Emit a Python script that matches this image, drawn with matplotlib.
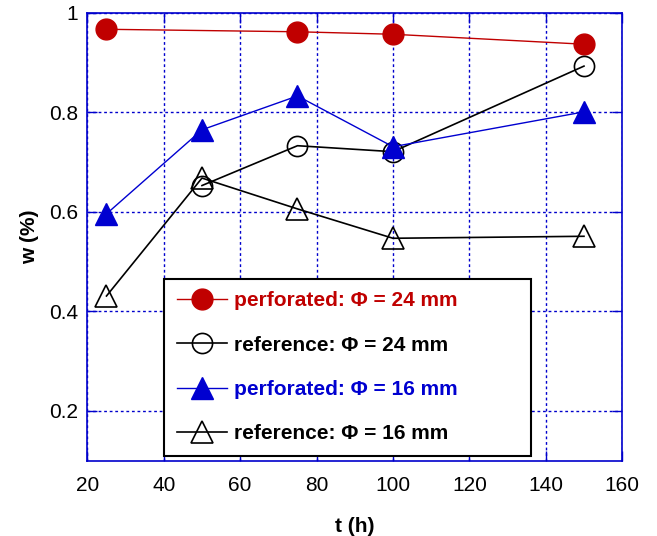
"""Moisture content w versus time t for perforated and reference samples."""
import matplotlib
matplotlib.use("Agg")
import matplotlib.pyplot as plt

plt.rcParams["font.family"] = ["Liberation Sans", "DejaVu Sans"]

# Data
t_perf24 = [25, 75, 100, 150]
w_perf24 = [0.967, 0.962, 0.957, 0.937]

t_ref24 = [50, 75, 100, 150]
w_ref24 = [0.653, 0.733, 0.721, 0.893]

t_perf16 = [25, 50, 75, 100, 150]
w_perf16 = [0.596, 0.765, 0.833, 0.731, 0.801]

t_ref16 = [25, 50, 75, 100, 150]
w_ref16 = [0.431, 0.668, 0.606, 0.547, 0.551]

labels = ["perforated: \u03a6 = 24 mm", "reference: \u03a6 = 24 mm",
          "perforated: \u03a6 = 16 mm", "reference: \u03a6 = 16 mm"]

red = "#c00000"
blue = "#0000d0"
axis_blue = "#0000cc"

fig, ax = plt.subplots(figsize=(6.57, 5.36), dpi=100)
fig.subplots_adjust(left=0.133, right=0.947, top=0.976, bottom=0.1405)

ax.plot(t_perf24, w_perf24, "-o", color=red, lw=1, ms=15, mfc=red, mec=red, label=labels[0], zorder=3)
ax.plot(t_ref24, w_ref24, "-o", color="k", lw=1.2, ms=14.5, mfc="none", mec="k", mew=1.2,
        label=labels[1], zorder=3)
ax.plot(t_perf16, w_perf16, "-^", color=blue, lw=1, ms=15.5, mfc=blue, mec=blue, label=labels[2], zorder=3)
ax.plot(t_ref16, w_ref16, "-^", color="k", lw=1.2, ms=15.5, mfc="none", mec="k", mew=1.2,
        label=labels[3], zorder=3)

ax.set_xlim(20, 160)
ax.set_ylim(0.1, 1.0)
ax.set_xticks(range(20, 161, 20))
ax.set_yticks([0.2, 0.4, 0.6, 0.8, 1.0])
ax.set_yticklabels(["0.2", "0.4", "0.6", "0.8", "1"])

ax.grid(True, color=axis_blue, linestyle=(0, (2, 2)), lw=1)
for spine in ax.spines.values():
    spine.set_color(axis_blue)
    spine.set_linewidth(1.2)
ax.tick_params(direction="in", length=7, width=1, color=axis_blue, labelsize=15,
               top=True, right=True)
ax.tick_params(axis="x", pad=11)
ax.tick_params(axis="y", pad=6.5)

ax.set_xlabel("t (h)", fontsize=15, fontweight="bold", labelpad=16)
ax.set_ylabel("w (%)", fontsize=15, fontweight="bold", labelpad=7)

leg = ax.legend(loc="lower left", bbox_to_anchor=(0.1433, 0.0105, 0.686, 0.407), mode="expand",
                prop={"weight": "bold", "size": 15}, frameon=True, fancybox=False,
                edgecolor="k", framealpha=1, labelspacing=1.22, handlelength=2.4,
                handletextpad=0.35, borderpad=0.6, borderaxespad=0)
leg.get_frame().set_linewidth(1.5)
leg.set_zorder(5)
for text, col in zip(leg.get_texts(), [red, "k", blue, "k"]):
    text.set_color(col)

fig.savefig("out.png", dpi=100, facecolor="w")
